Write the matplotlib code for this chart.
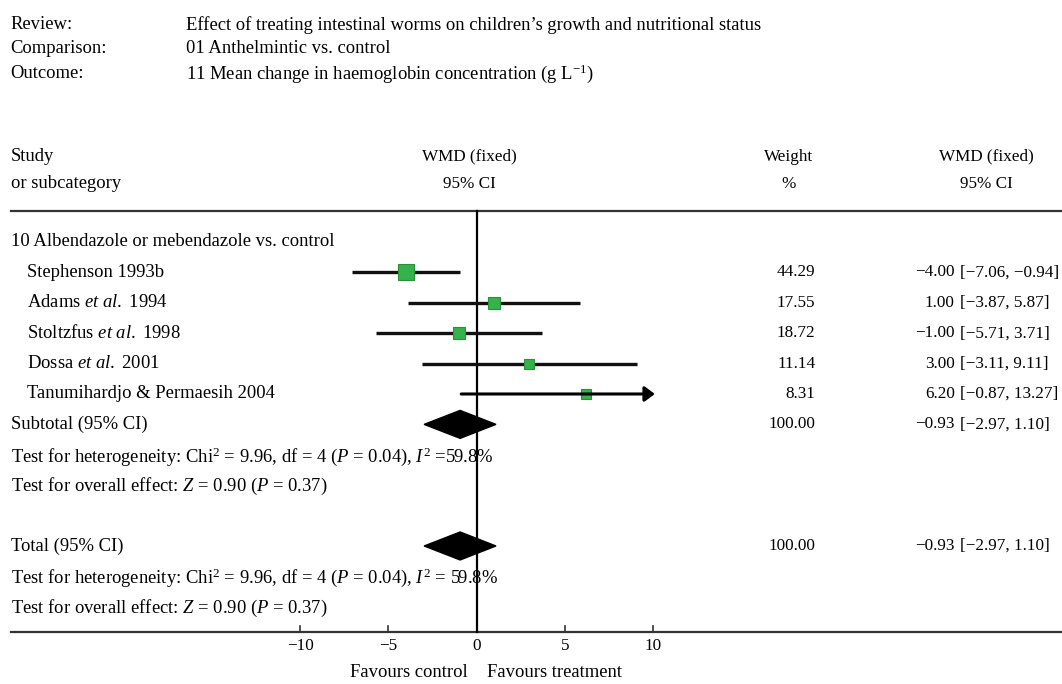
import matplotlib
matplotlib.use("Agg")
import matplotlib.pyplot as plt
from matplotlib.patches import Polygon

plt.rcParams['font.family'] = ['Liberation Serif', 'DejaVu Serif']
plt.rcParams['mathtext.fontset'] = 'custom'
plt.rcParams['mathtext.rm'] = 'Liberation Serif'
plt.rcParams['mathtext.it'] = 'Liberation Serif:italic'

# header info
review = "Effect of treating intestinal worms on children\u2019s growth and nutritional status"
comparison = "01 Anthelmintic vs. control"
outcome = r"11 Mean change in haemoglobin concentration (g L$^{-1}$)"

# study data
group_title = "10 Albendazole or mebendazole vs. control"
studies = ["Stephenson 1993b", r"Adams $\mathit{et\ al.}$ 1994", r"Stoltzfus $\mathit{et\ al.}$ 1998",
           r"Dossa $\mathit{et\ al.}$ 2001", "Tanumihardjo & Permaesih 2004"]
est = [-4.00, 1.00, -1.00, 3.00, 6.20]
lo = [-7.06, -3.87, -5.71, -3.11, -0.87]
hi = [-0.94, 5.87, 3.71, 9.11, 13.27]
weights = [44.29, 17.55, 18.72, 11.14, 8.31]

# pooled
pooled_est, pooled_lo, pooled_hi, pooled_w = -0.93, -2.97, 1.10, 100.00
het_sub = r"Test for heterogeneity: Chi$^2$ = 9.96, df = 4 ($P$ = 0.04), $I^2$ =59.8%"
het_tot = r"Test for heterogeneity: Chi$^2$ = 9.96, df = 4 ($P$ = 0.04), $I^2$ = 59.8%"
overall = r"Test for overall effect: $Z$ = 0.90 ($P$ = 0.37)"

ticks = [-10, -5, 0, 5, 10]
clip_max = 10.1

fs = 13.4    # left-hand text
fs2 = 12.3   # columns on the right
M = "\u2212"


def fmt(v):
    return f"{v:.2f}".replace("-", M)


fig = plt.figure(figsize=(10.62, 6.84), dpi=100)
ax = fig.add_axes([0, 0, 1, 1])
ax.set_xlim(-27.0, 33.17)
ax.set_ylim(14.54, -7.96)
ax.axis('off')

xl = -26.4      # left text column
xind = -25.45   # study indent
xhead = -0.4    # centre of plot header
xw = 19.2       # weight column right edge
xwc = 17.7      # weight header centre
xest = 27.1     # estimate right edge
xci = 27.4      # ci left edge
xrc = 28.9      # right header centre

# top header lines
for r, lab, txt in [(-7.15, "Review:", review), (-6.36, "Comparison:", comparison),
                    (-5.55, "Outcome:", outcome)]:
    ax.text(xl, r, lab, fontsize=fs, va='center', ha='left')
    ax.text(-16.45, r, txt, fontsize=fs, va='center', ha='left')

# column headers
ax.text(xl, -2.8, "Study", fontsize=fs, va='center')
ax.text(xl, -1.91, "or subcategory", fontsize=fs, va='center')
ax.text(xhead, -2.8, "WMD (fixed)", fontsize=fs2, va='center', ha='center')
ax.text(xhead, -1.91, "95% CI", fontsize=fs2, va='center', ha='center')
ax.text(xwc, -2.8, "Weight", fontsize=fs2, va='center', ha='center')
ax.text(xwc, -1.91, "%", fontsize=fs2, va='center', ha='center')
ax.text(xrc, -2.8, "WMD (fixed)", fontsize=fs2, va='center', ha='center')
ax.text(xrc, -1.91, "95% CI", fontsize=fs2, va='center', ha='center')

line_c = '#333333'
ax.plot([-26.4, 33.1], [-1.02, -1.02], color=line_c, lw=1.6)
ax.plot([-26.4, 33.1], [12.83, 12.83], color=line_c, lw=1.6)
ax.plot([0, 0], [-1.02, 12.83], color='black', lw=1.6)

for t in ticks:
    if t != 0:
        ax.plot([t, t], [12.83, 12.62], color=line_c, lw=1.2)
    ax.text(t, 13.28, fmt(t).replace(".00", ""), fontsize=fs2, ha='center', va='center')
ax.text(-0.5, 14.15, "Favours control", fontsize=fs, ha='right', va='center')
ax.text(0.6, 14.15, "Favours treatment", fontsize=fs, ha='left', va='center')

ax.text(xl, 0, group_title, fontsize=fs, va='center')

for i, (name, e, l, h, w) in enumerate(zip(studies, est, lo, hi, weights)):
    r = i + 1
    ax.text(xind, r, name, fontsize=fs, va='center')
    if h > clip_max:
        ax.annotate("", xy=(clip_max, r), xytext=(l, r),
                    arrowprops=dict(arrowstyle='-|>,head_length=0.6,head_width=0.45',
                                    color='black', lw=2.2, shrinkA=0, shrinkB=0))
    else:
        ax.plot([l, h], [r, r], color='#111111', lw=2.4, solid_capstyle='butt')
    ax.plot(e, r, marker='s', markersize=2.5 + 1.4 * w ** 0.5, color='#35b24a',
            markeredgecolor='#2a8f3c', markeredgewidth=0.8)
    ax.text(xw, r, f"{w:.2f}", fontsize=fs2, va='center', ha='right')
    ax.text(xest, r, fmt(e), fontsize=fs2, va='center', ha='right')
    ax.text(xci, r, f"[{fmt(l)}, {fmt(h)}]", fontsize=fs2, va='center', ha='left')

for r, lab, het in [(6, "Subtotal (95% CI)", het_sub), (10, "Total (95% CI)", het_tot)]:
    ax.text(xl, r, lab, fontsize=fs, va='center')
    ax.text(xl, r + 1.05, het, fontsize=fs, va='center')
    ax.text(xl, r + 2.05, overall, fontsize=fs, va='center')
    dia = Polygon([(pooled_lo, r), (pooled_est, r - 0.46), (pooled_hi, r), (pooled_est, r + 0.46)],
                  closed=True, color='black')
    ax.add_patch(dia)
    ax.text(xw, r, f"{pooled_w:.2f}", fontsize=fs2, va='center', ha='right')
    ax.text(xest, r, fmt(pooled_est), fontsize=fs2, va='center', ha='right')
    ax.text(xci, r, f"[{fmt(pooled_lo)}, {fmt(pooled_hi)}]", fontsize=fs2, va='center', ha='left')

fig.savefig("out.png", dpi=100)
